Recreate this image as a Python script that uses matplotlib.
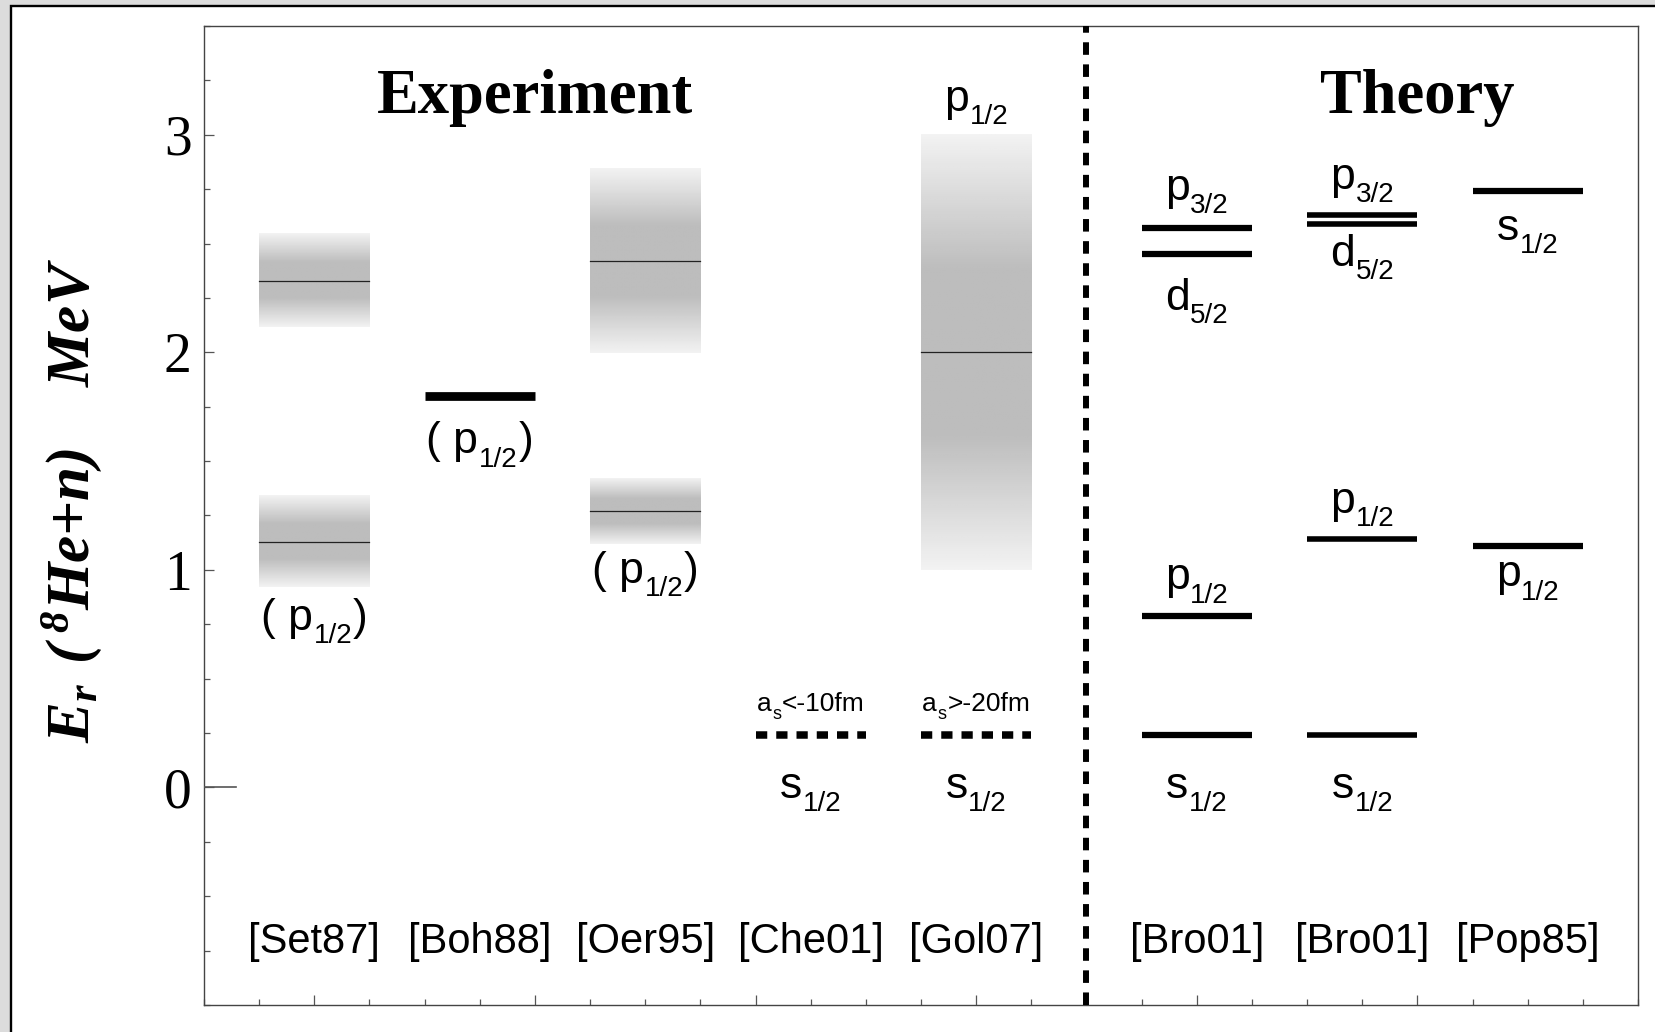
import numpy as np
import matplotlib
matplotlib.use("Agg")
import matplotlib.pyplot as plt
from matplotlib.patches import Rectangle
from matplotlib.ticker import FixedLocator, MultipleLocator, NullFormatter
from matplotlib.transforms import offset_copy

# ------------------------
# Level energies (MeV) and widths
# ------------------------
exp_refs = ["[Set87]", "[Boh88]", "[Oer95]", "[Che01]", "[Gol07]"]
theo_refs = ["[Bro01]", "[Bro01]", "[Pop85]"]

set87_E = [2.33, 1.13]
set87_W = [0.43, 0.42]
oer95_E = [2.42, 1.27]
oer95_W = [0.85, 0.30]
gol07_E = [2.00]
gol07_W = [2.00]
boh88_E = [1.80]
virtual_s = [0.24, 0.24]          # Che01, Gol07 (scattering length limits)

bro01a_E = [2.57, 2.45, 0.79, 0.24]
bro01b_E = [2.63, 2.59, 1.14, 0.24]
pop85_E = [2.74, 1.11]

SANS = "Liberation Sans"
SERIF = "Liberation Serif"

fig = plt.figure(figsize=(16.56, 10.32), dpi=100)
fig.patch.set_facecolor("#dcdcdc")
fig.patches.append(Rectangle((11 / 1656, -0.05), 1.2, 1.05 - 6 / 1032,
                             transform=fig.transFigure, facecolor="white",
                             edgecolor="black", lw=1.7, zorder=-1))

ax = fig.add_axes([204 / 1656, 1 - 1005 / 1032, 1434 / 1656, 979 / 1032])
ax.set_xlim(0, 26)
ax.set_ylim(-1, 3.5)

col_x = [2 + 3 * i for i in range(len(exp_refs))] + \
        [18 + 3 * i for i in range(len(theo_refs))]


def shaded_level(xc, e, w):
    # grey band: light at the edges, darker plateau in the middle
    t = np.linspace(-1, 1, 200)
    a = np.clip((np.abs(t) - 0.38) / 0.62, 0, 1)
    v = 0.74 + (0.95 - 0.74) * a
    ax.imshow(v[:, None], cmap="gray", vmin=0, vmax=1, aspect="auto",
              extent=[xc - 1, xc + 1, e - w / 2, e + w / 2],
              interpolation="bilinear", zorder=1)
    ax.plot([xc - 1, xc + 1], [e, e], color="#222222", lw=0.9, zorder=2)


def line_level(xc, e, lw=4.5, dashed=False):
    ln, = ax.plot([xc - 1, xc + 1], [e, e], color="black", lw=lw,
                  solid_capstyle="butt", zorder=3)
    if dashed:
        ln.set_dashes((1.5, 1.2))


labels = []


def level_label(xc, y, base, sub, tail="", size=32, sub_size=20, drop=-3.0):
    t0 = ax.text(xc, y, base, fontsize=size, family=SANS, ha="left",
                 va="baseline", zorder=4)
    t1 = ax.annotate(sub, xy=(1, 0), xycoords=t0, xytext=(0.5, drop),
                     textcoords="offset points", fontsize=sub_size,
                     family=SANS, ha="left", va="baseline", zorder=4)
    parts = [t0, t1]
    if tail:
        t2 = ax.annotate(tail, xy=(1, 0), xycoords=(t1, t0), xytext=(0.5, 0),
                         textcoords="offset points", fontsize=size,
                         family=SANS, ha="left", va="bottom", zorder=4)
        parts.append(t2)
    labels.append(parts)


# Experiment
for e, w in zip(set87_E, set87_W):
    shaded_level(col_x[0], e, w)
level_label(col_x[0], 0.725, "( p", "1/2", ")")

line_level(col_x[1], boh88_E[0], lw=6.3)
level_label(col_x[1], 1.535, "( p", "1/2", ")")

for e, w in zip(oer95_E, oer95_W):
    shaded_level(col_x[2], e, w)
level_label(col_x[2], 0.94, "( p", "1/2", ")")

line_level(col_x[3], virtual_s[0], lw=5.4, dashed=True)
level_label(col_x[3], 0.35, "a", "s", "<-10fm", size=19, sub_size=13, drop=-2.0)
level_label(col_x[3], -0.05, "s", "1/2")

for e, w in zip(gol07_E, gol07_W):
    shaded_level(col_x[4], e, w)
level_label(col_x[4], 3.11, "p", "1/2")
line_level(col_x[4], virtual_s[1], lw=5.4, dashed=True)
level_label(col_x[4], 0.35, "a", "s", ">-20fm", size=19, sub_size=13, drop=-2.0)
level_label(col_x[4], -0.05, "s", "1/2")

# Theory
for e in bro01a_E:
    line_level(col_x[5], e)
level_label(col_x[5], 2.70, "p", "3/2")
level_label(col_x[5], 2.194, "d", "5/2")
level_label(col_x[5], 0.91, "p", "1/2")
level_label(col_x[5], -0.05, "s", "1/2")

for e in bro01b_E:
    line_level(col_x[6], e, lw=4.0)
level_label(col_x[6], 2.752, "p", "3/2")
level_label(col_x[6], 2.396, "d", "5/2")
level_label(col_x[6], 1.26, "p", "1/2")
level_label(col_x[6], -0.05, "s", "1/2")

for e in pop85_E:
    line_level(col_x[7], e)
level_label(col_x[7], 2.515, "s", "1/2")
level_label(col_x[7], 0.924, "p", "1/2")

# reference names along the bottom
for xc, name in zip(col_x, exp_refs + theo_refs):
    ax.text(xc, -0.76, name, fontsize=30, family=SANS, ha="center",
            va="baseline")

ax.text(6, 3.10, "Experiment", fontsize=45, family=SERIF,
        weight="bold", ha="center", va="baseline")
ax.text(22, 3.10, "Theory", fontsize=45, family=SERIF,
        weight="bold", ha="center", va="baseline")

# divider between experiment and theory
div = ax.axvline(16, color="black", lw=4.3, zorder=3)
div.set_dashes((2.1, 1.6))

# zero marker on the energy axis
ax.plot([0, 0.58], [0, 0], color="#555555", lw=1.2, zorder=3)

# axes styling
for s in ax.spines.values():
    s.set_color("#444444")
    s.set_linewidth(1.0)

ax.xaxis.set_major_locator(FixedLocator(np.arange(2, 23, 4)))
ax.xaxis.set_minor_locator(MultipleLocator(1))
ax.xaxis.set_major_formatter(NullFormatter())
ax.yaxis.set_major_locator(FixedLocator([0, 1, 2, 3]))
ax.yaxis.set_minor_locator(MultipleLocator(0.25))
ax.tick_params(which="both", direction="in", top=False, right=False,
               color="#555555", width=0.9)
ax.tick_params(which="major", length=7.5)
ax.tick_params(which="minor", length=4)
ax.tick_params(axis="y", which="major", labelsize=40, pad=9)
for lbl in ax.get_yticklabels():
    lbl.set_family(SERIF)

ax.text(-0.0919, 0.515, r"$\mathregular{E_r\ (\,^8He{+}n)\ \ \ MeV}$",
        transform=ax.transAxes, rotation=90, ha="center", va="center",
        fontsize=44, family=SERIF, weight="bold", style="italic")

# centre each composite label on its column
fig.canvas.draw()
for parts in labels:
    boxes = [p.get_window_extent() for p in parts]
    x0 = min(b.x0 for b in boxes)
    x1 = max(b.x1 for b in boxes)
    parts[0].set_transform(offset_copy(ax.transData, fig,
                                       x=-(x1 - x0) / 2, y=0, units="dots"))

fig.savefig("out.png", dpi=100, facecolor=fig.get_facecolor())
